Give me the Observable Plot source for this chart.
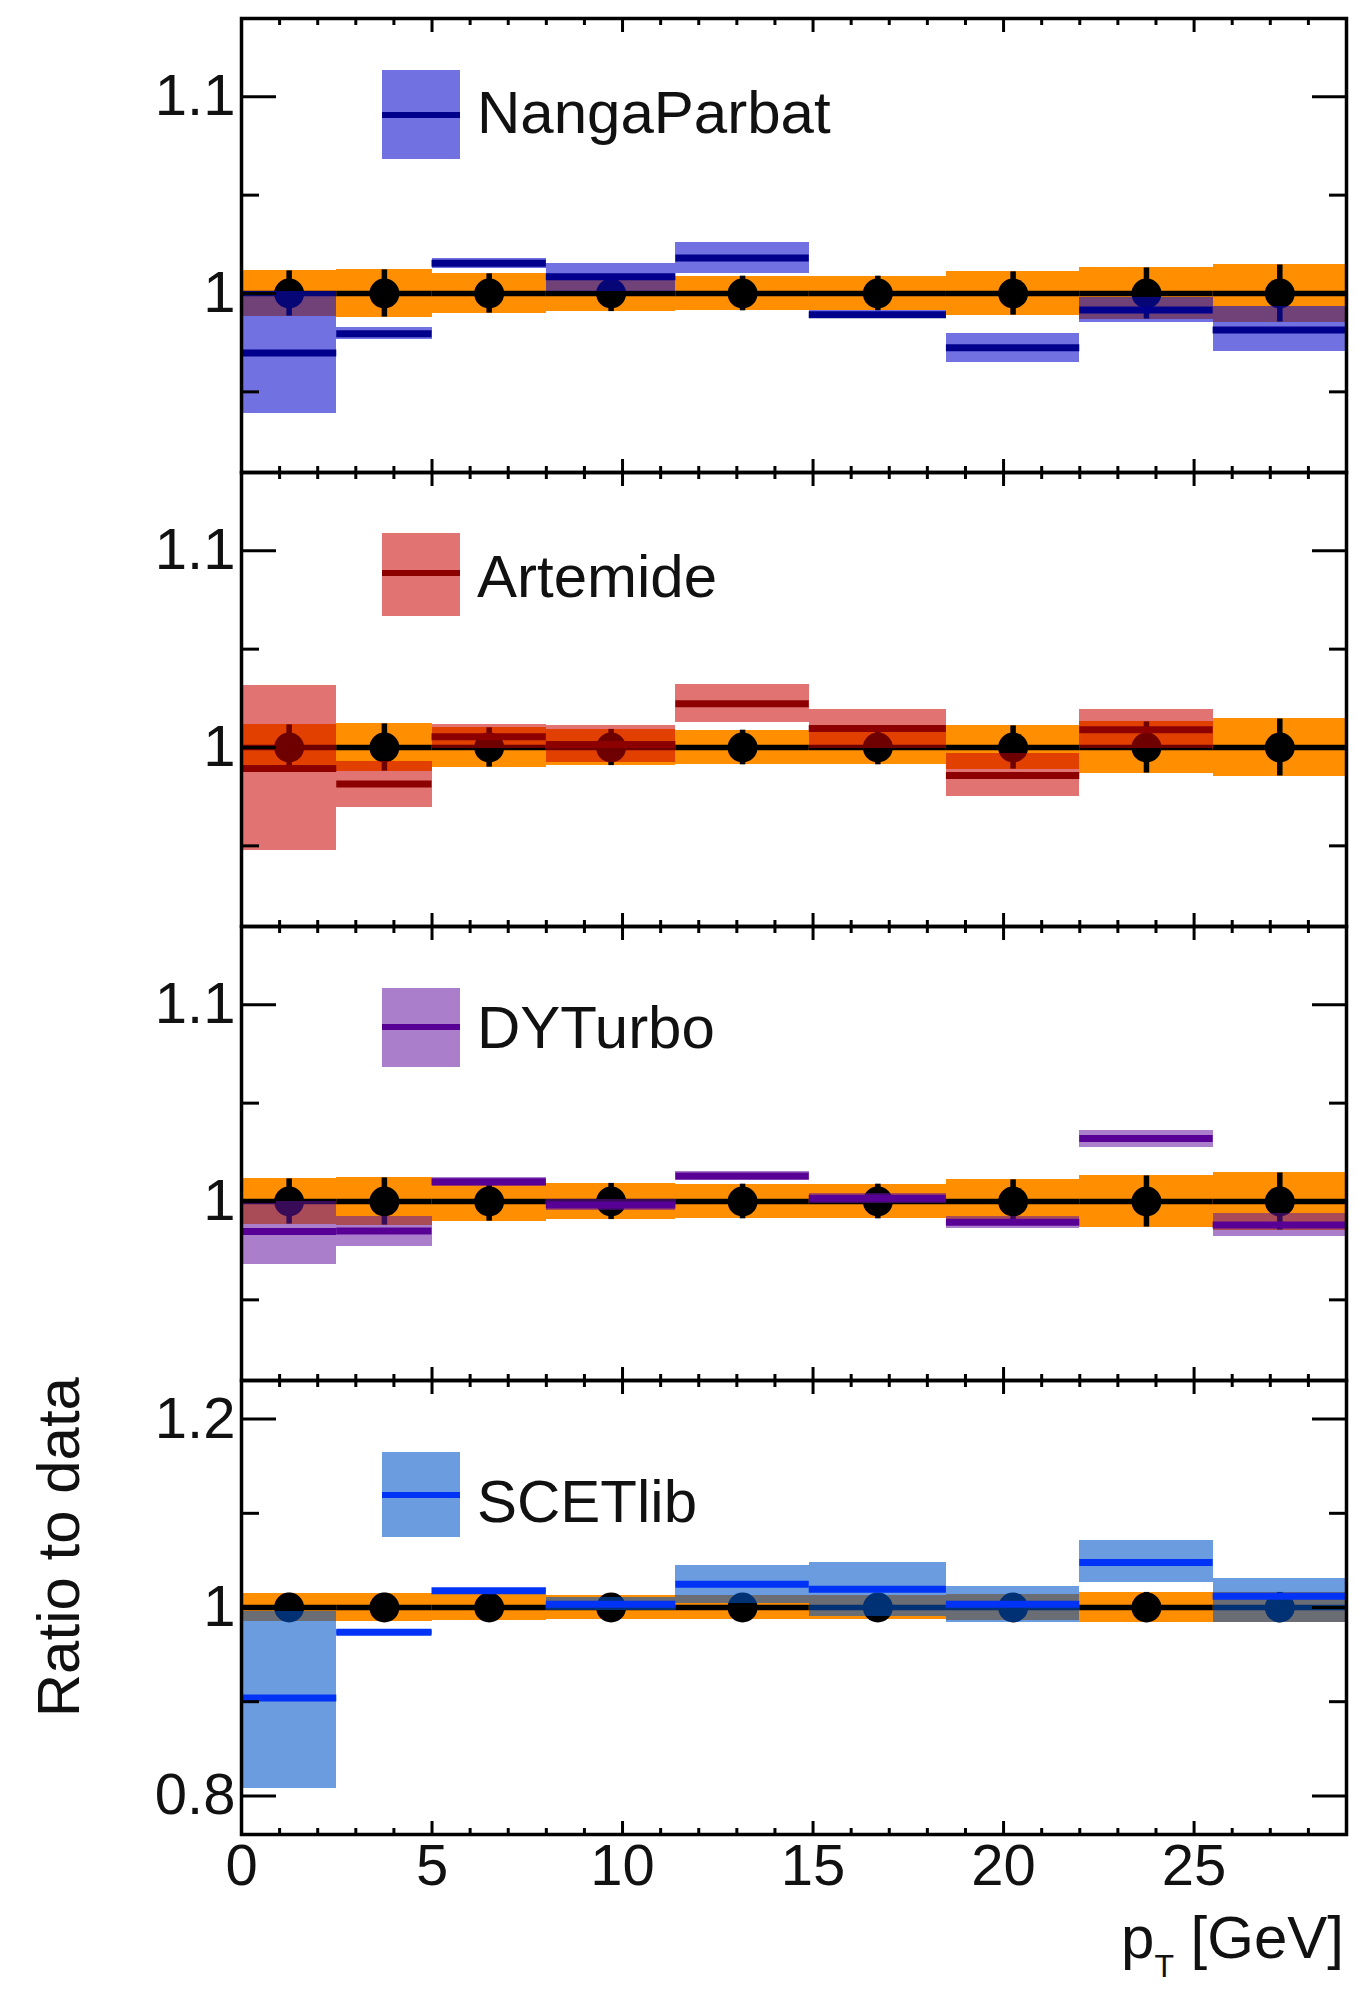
<!DOCTYPE html>
<html>
<head>
<meta charset="utf-8">
<script src="https://cdn.jsdelivr.net/npm/d3@7"></script>
<script src="https://cdn.jsdelivr.net/npm/@observablehq/plot@0.6"></script>
<style>
  html, body { margin: 0; padding: 0; background: #fff; }
  #chart { position: relative; width: 1358px; height: 1991px; overflow: hidden; background: #fff; }
  #chart svg { position: absolute; left: 0; max-width: none; }
</style>
</head>
<body>
<div id="chart"></div>
<script>
// ---- pT binning [GeV] ----
const binLo  = [0, 2.5, 5, 8, 11.4, 14.9, 18.5, 22, 25.5];
const binHi  = [2.5, 5, 8, 11.4, 14.9, 18.5, 22, 25.5, 29];
const binMid = [1.25, 3.75, 6.5, 9.7, 13.15, 16.7, 20.25, 23.75, 27.25];

// ---- data / data and its relative uncertainty ----
const dataRatio   = [1, 1, 1, 1, 1, 1, 1, 1, 1];
const dataErr     = [0.0115, 0.012, 0.010, 0.0092, 0.0088, 0.0088, 0.011, 0.013, 0.0145];
const dataErrScet = [0.015, 0.015, 0.014, 0.013, 0.013, 0.013, 0.014, 0.016, 0.016];

// ---- prediction / data: central value and band (low, high) ----
const nangaVal = [0.9697, 0.9795, 1.0154, 1.0085, 1.0181, 0.9892, 0.9724, 0.9916, 0.9815];
const nangaLo  = [0.9390, 0.9765, 1.0129, 1.0008, 1.0103, 0.9872, 0.9651, 0.9854, 0.9707];
const nangaHi  = [1.0010, 0.9825, 1.0179, 1.0155, 1.0261, 0.9912, 0.9795, 0.9980, 0.9934];

const artVal = [0.9893, 0.9814, 1.0055, 1.0015, 1.0222, 1.0096, 0.9858, 1.0090];
const artLo  = [0.9477, 0.9697, 0.9995, 0.9925, 1.0125, 0.9995, 0.9750, 0.9995];
const artHi  = [1.0315, 0.9930, 1.0115, 1.0110, 1.0322, 1.0193, 0.9970, 1.0193];

const dytVal = [0.9848, 0.9850, 1.0100, 0.9982, 1.0130, 1.0016, 0.9895, 1.0320, 0.9880];
const dytLo  = [0.9680, 0.9770, 1.0078, 0.9952, 1.0105, 0.9990, 0.9862, 1.0277, 0.9820];
const dytHi  = [1.0000, 0.9925, 1.0122, 1.0012, 1.0155, 1.0042, 0.9925, 1.0363, 0.9940];

const scetVal = [0.9040, 0.9738, 1.0177, 1.0035, 1.0248, 1.0194, 1.0035, 1.0478, 1.0120];
const scetLo  = [0.8080, 0.9718, 1.0157, 0.9965, 1.0040, 0.9900, 0.9840, 1.0265, 0.9844];
const scetHi  = [0.9960, 0.9758, 1.0197, 1.0105, 1.0450, 1.0480, 1.0220, 1.0708, 1.0307];

// ---- axis ranges and ticks ----
const xDomain  = [0, 29];
const xMajor   = [0, 5, 10, 15, 20, 25];
const xMinor   = d3.range(1, 29).filter(v => v % 5 !== 0);
const yDomainRatio = [0.909, 1.1398];
const yMajorRatio  = [1, 1.1];
const yMinorRatio  = [0.95, 1.05];
const yDomainWide  = [0.759, 1.241];
const yMajorWide   = [0.8, 1, 1.2];
const yMinorWide   = [0.9, 1.1];

// ---- styling ----
const W = 1358, FRAME_H = 454;
const ORANGE = "#ff8f00";
const FONT = "'Liberation Sans', Arial, Helvetica, sans-serif";

const models = [
  {name: "NangaParbat", val: nangaVal, lo: nangaLo, hi: nangaHi, band: "#0a0acd", opacity: 0.58, line: "#00008c"},
  {name: "Artemide",    val: artVal,   lo: artLo,   hi: artHi,   band: "#c80000", opacity: 0.55, line: "#8c0000"},
  {name: "DYTurbo",     val: dytVal,   lo: dytLo,   hi: dytHi,   band: "#6414a0", opacity: 0.55, line: "#580096"},
  {name: "SCETlib",     val: scetVal,  lo: scetLo,  hi: scetHi,  band: "#0055c8", opacity: 0.58, line: "#0033f5"}
];

// page layout of the four stacked pads (svg top, margins, legend placement)
const pads = [
  {top: 0,    mt: 18, mb: 0,   dom: yDomainRatio, major: yMajorRatio, minor: yMinorRatio, err: dataErr,
   leg: {boxTop: 70, boxBottom: 159, lineY: 115, baseline: 133}},
  {top: 472,  mt: 0,  mb: 0,   dom: yDomainRatio, major: yMajorRatio, minor: yMinorRatio, err: dataErr,
   leg: {boxTop: 61, boxBottom: 144, lineY: 101, baseline: 125}},
  {top: 926,  mt: 0,  mb: 0,   dom: yDomainRatio, major: yMajorRatio, minor: yMinorRatio, err: dataErr,
   leg: {boxTop: 62, boxBottom: 141, lineY: 101, baseline: 122}},
  {top: 1380, mt: 0,  mb: 157, dom: yDomainWide,  major: yMajorWide,  minor: yMinorWide,  err: dataErrScet,
   leg: {boxTop: 72, boxBottom: 157, lineY: 115, baseline: 142}}
];

const chart = document.getElementById("chart");

pads.forEach((pad, k) => {
  const model = models[k];
  const isBottom = k === pads.length - 1;
  const rows = binLo.map((lo, i) => ({lo, hi: binHi[i], mid: binMid[i], r: dataRatio[i], e: pad.err[i]}));
  const mrows = model.val.map((v, i) => ({lo: binLo[i], hi: binHi[i], v, y1: model.lo[i], y2: model.hi[i]}));

  const tickOpts = {stroke: "#000", strokeWidth: 3, fill: "none", label: null};
  const marks = [
    // data uncertainty band
    Plot.rect(rows, {x1: "lo", x2: "hi", y1: d => d.r - d.e, y2: d => d.r + d.e, fill: ORANGE, shapeRendering: "crispEdges"}),
    // data points with horizontal bin bars and vertical error bars
    Plot.ruleY(rows, {y: "r", x1: "lo", x2: "hi", stroke: "#000", strokeWidth: 5.5}),
    Plot.ruleX(rows, {x: "mid", y1: d => d.r - d.e, y2: d => d.r + d.e, stroke: "#000", strokeWidth: 5.5}),
    Plot.dot(rows, {x: "mid", y: "r", r: 15, fill: "#000"}),
    // prediction band and central value
    Plot.rect(mrows, {x1: "lo", x2: "hi", y1: "y1", y2: "y2", fill: model.band, fillOpacity: model.opacity, shapeRendering: "crispEdges"}),
    Plot.ruleY(mrows, {y: "v", x1: "lo", x2: "hi", stroke: model.line, strokeWidth: 7}),
    // inward ticks on all four sides
    Plot.axisX(xMajor, {anchor: "bottom", tickSize: -13, ...tickOpts}),
    Plot.axisX(xMinor, {anchor: "bottom", tickSize: -6, ...tickOpts}),
    Plot.axisX(xMajor, {anchor: "top", tickSize: -13, ...tickOpts}),
    Plot.axisX(xMinor, {anchor: "top", tickSize: -6, ...tickOpts}),
    Plot.axisY(pad.major, {anchor: "left", tickSize: -35, ...tickOpts}),
    Plot.axisY(pad.minor, {anchor: "left", tickSize: -18, ...tickOpts}),
    Plot.axisY(pad.major, {anchor: "right", tickSize: -35, ...tickOpts}),
    Plot.axisY(pad.minor, {anchor: "right", tickSize: -18, ...tickOpts}),
    // tick labels
    Plot.axisY(pad.major, {anchor: "left", tickSize: 0, tickPadding: 6, fontSize: 58, fill: "#111",
      tickFormat: d => String(d), label: null}),
    Plot.frame({stroke: "#000", strokeWidth: 3.5})
  ];
  if (isBottom) {
    marks.push(Plot.axisX(xMajor, {anchor: "bottom", tickSize: 0, tickPadding: 9, fontSize: 58, fill: "#111",
      tickFormat: d => String(d), label: null}));
  }

  const svg = Plot.plot({
    width: W,
    height: FRAME_H + pad.mt + pad.mb,
    marginLeft: 241,
    marginRight: 12,
    marginTop: pad.mt,
    marginBottom: pad.mb,
    x: {domain: xDomain},
    y: {domain: pad.dom},
    style: {background: "transparent", overflow: "visible", fontFamily: FONT, color: "#000"},
    marks
  });
  svg.style.top = pad.top + "px";
  chart.appendChild(svg);

  // legend entry: band swatch with central line, then the model name
  const s = d3.select(svg);
  const L = pad.leg;
  const g = s.append("g").attr("font-family", FONT);
  g.append("rect").attr("x", 382).attr("width", 78)
    .attr("y", L.boxTop).attr("height", L.boxBottom - L.boxTop)
    .attr("fill", model.band).attr("fill-opacity", model.opacity);
  g.append("line").attr("x1", 382).attr("x2", 460).attr("y1", L.lineY).attr("y2", L.lineY)
    .attr("stroke", model.line).attr("stroke-width", 6);
  g.append("text").attr("x", 477).attr("y", L.baseline).attr("font-size", 60).attr("fill", "#111")
    .attr("text-anchor", "start")
    .text(model.name);

  if (isBottom) {
    // y title, right-aligned to the top of this pad
    s.append("text")
      .attr("transform", "translate(79,-3) rotate(-90)")
      .attr("text-anchor", "end").attr("font-family", FONT).attr("font-size", 60).attr("fill", "#111")
      .text("Ratio to data");
    // x title with subscript
    const t = s.append("text")
      .attr("x", 1344).attr("y", 578)
      .attr("text-anchor", "end").attr("font-family", FONT).attr("font-size", 60).attr("fill", "#111");
    t.append("tspan").text("p");
    t.append("tspan").attr("font-size", 32).attr("dy", 19).text("T");
    t.append("tspan").attr("dy", -19).text(" [GeV]");
  }
});
</script>
</body>
</html>
